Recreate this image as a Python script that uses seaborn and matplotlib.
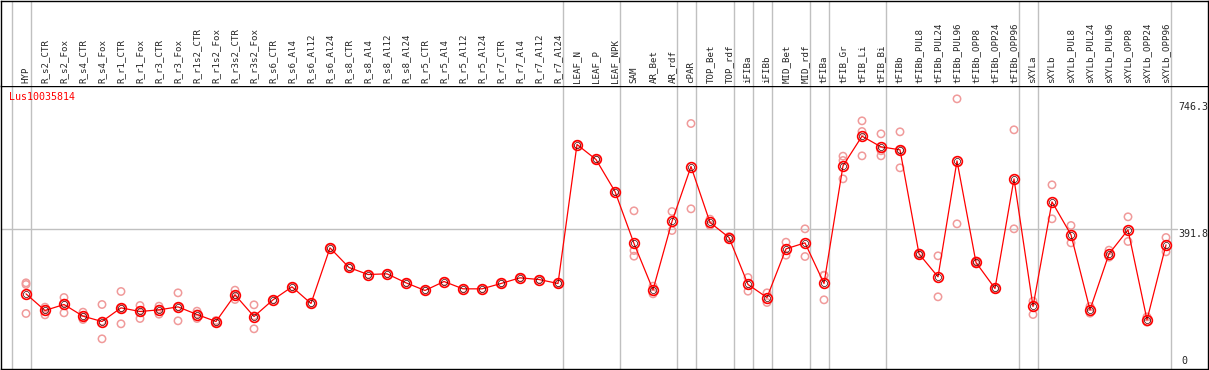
import pandas as pd
import numpy as np
import matplotlib.pyplot as plt
import seaborn as sns

# Muestras (orden de las columnas del encabezado)
muestras = ['HYP', 'R_s2_CTR', 'R_s2_Fox', 'R_s4_CTR', 'R_s4_Fox', 'R_r1_CTR', 'R_r1_Fox',
            'R_r3_CTR', 'R_r3_Fox', 'R_r1s2_CTR', 'R_r1s2_Fox', 'R_r3s2_CTR', 'R_r3s2_Fox',
            'R_s6_CTR', 'R_s6_Al4', 'R_s6_Al12', 'R_s6_Al24', 'R_s8_CTR', 'R_s8_Al4',
            'R_s8_Al12', 'R_s8_Al24', 'R_r5_CTR', 'R_r5_Al4', 'R_r5_Al12', 'R_r5_Al24',
            'R_r7_CTR', 'R_r7_Al4', 'R_r7_Al12', 'R_r7_Al24', 'LEAF_N', 'LEAF_P', 'LEAF_NPK',
            'SAM', 'AR_Bet', 'AR_rdf', 'cPAR', 'TOP_Bet', 'TOP_rdf', 'iFIBa', 'iFIBb',
            'MID_Bet', 'MID_rdf', 'tFIBa', 'tFIB_Gr', 'tFIB_Li', 'tFIB_Bi', 'tFIBb',
            'tFIBb_PUL8', 'tFIBb_PUL24', 'tFIBb_PUL96', 'tFIBb_OPP8', 'tFIBb_OPP24',
            'tFIBb_OPP96', 'sXYLa', 'sXYLb', 'sXYLb_PUL8', 'sXYLb_PUL24', 'sXYLb_PUL96',
            'sXYLb_OPP8', 'sXYLb_OPP24', 'sXYLb_OPP96']

# tamaño de cada grupo de tejido (separadores verticales)
grupos = [1, 28, 3, 3, 1, 2, 1, 1, 2, 1, 3, 7, 1, 7]

# expresión media por muestra
media = [209.4, 162.7, 179.5, 146.8, 131.8, 170.1, 159.9, 164.5, 172.9, 151.4, 131.8,
         206.6, 145.8, 192.6, 229.0, 182.3, 338.4, 283.3, 263.6, 265.5, 240.3, 218.8,
         244.0, 223.4, 223.4, 238.4, 254.3, 249.6, 238.4, 628.2, 586.2, 496.4, 350.6,
         220.6, 412.3, 566.5, 409.5, 367.4, 235.6, 199.1, 335.6, 352.4, 238.4, 568.4,
         651.6, 621.7, 613.3, 321.6, 257.1, 582.4, 297.3, 224.4, 531.9, 173.9, 467.4,
         374.9, 164.5, 321.6, 388.9, 136.5, 346.8]

# réplicas individuales
replicas = [
    [240.3, 235.6, 154.3], [172.0, 165.6, 150.5], [199.1, 183.3, 156.1],
    [158.0, 145.0, 137.4], [179.5, 132.7, 83.2], [216.0, 169.0, 125.3],
    [176.7, 162.8, 140.2], [174.8, 166.3, 152.4], [212.2, 172.8, 133.7],
    [160.8, 153.2, 140.2], [134.6, 131.8, 129.0], [219.7, 206.6, 193.5],
    [178.6, 147.5, 111.3], [192.6], [229.0], [182.3], [338.4], [283.3], [263.6],
    [265.5], [240.3], [218.8], [244.0], [223.4], [223.4], [238.4], [254.3], [249.6],
    [238.4], [628.2], [586.2], [496.4], [442.2, 330.9, 315.0], [230.9, 209.4],
    [440.3, 387.0], [687.1, 447.8], [418.8, 401.1], [370.0, 365.0], [255.2, 216.9],
    [212.2, 185.1], [354.3, 317.8], [391.7, 314.1], [261.8, 260.8, 192.6],
    [595.5, 583.4, 531.9], [694.6, 664.7, 596.4], [658.1, 610.6, 596.4],
    [663.8, 613.3, 562.8], [324.0, 321.6, 319.0], [316.0, 201.0], [756.3, 405.7],
    [302.0, 297.3, 293.5], [224.4], [669.4, 391.7], [188.8, 151.4], [515.1, 419.8],
    [401.1, 352.4], [173.9, 155.2], [331.9, 312.2], [425.4, 356.2], [144.9, 129.9],
    [367.4, 327.2]]

gen = 'Lus10035814'
niveles = [746.3, 391.8]

df_media = pd.DataFrame({'pos': np.arange(len(muestras)), 'media': media})
df_rep = pd.DataFrame([(i, v) for i, r in enumerate(replicas) for v in r],
                      columns=['pos', 'valor'])

sns.set_style('white')
plt.rcParams['font.family'] = ['DejaVu Sans Mono', 'DejaVu Sans']

W, H = 1209, 370
fig = plt.figure(figsize=(W / 100, H / 100), dpi=100)
xl = ((1 - 26) / 19, (1208 - 26) / 19)

# panel principal
ax = fig.add_axes([1 / W, (H - 368.5) / H, 1207 / W, 283 / H])
# encabezado con nombres
axh = fig.add_axes([1 / W, (H - 85.5) / H, 1207 / W, 85 / H])

gris = '#c0c0c0'
bordes = np.concatenate([[-1], np.cumsum(grupos) - 1]) + 0.25
for a in (ax, axh):
    a.set_xlim(*xl)
    for b in bordes:
        a.axvline(b, color=gris, lw=1.0, zorder=1)
    a.set_xticks([])
    a.set_yticks([])
    for s in a.spines.values():
        s.set_color('black')
        s.set_linewidth(1.0)

axh.set_ylim(0, 85)
axh.spines['bottom'].set_visible(False)
for i, m in enumerate(muestras):
    axh.text(i, 2.5, m, rotation=90, ha='center', va='bottom', fontsize=6.6)

ymax = (368.5 - 85.5) * 2.8046
ax.set_ylim(0, ymax)
ax.axhline(niveles[1], xmin=0, xmax=1176 / 1207, color=gris, lw=1.0, zorder=1)

sns.scatterplot(data=df_rep, x='pos', y='valor', ax=ax, marker='o', s=28,
                facecolors='none', edgecolor='#f09a9a', linewidth=1.1, zorder=2, legend=False)
sns.lineplot(data=df_media, x='pos', y='media', ax=ax, color='red', lw=0.9, zorder=3)
ax.plot(df_media['pos'], df_media['media'], ls='none', marker='o', ms=7,
        mfc='none', mec='red', mew=1.2, zorder=4)
ax.plot(df_media['pos'], df_media['media'], ls='none', marker='o', ms=4.4,
        mfc='none', mec='#400000', mew=0.5, zorder=5)
ax.set_xlabel('')
ax.set_ylabel('')
ax.set_xlim(*xl)

trans = ax.get_yaxis_transform()
xt = (1178 - 1) / 1207
ax.text(xt, niveles[0], f'{niveles[0]:.1f}', transform=trans, va='top', ha='left', fontsize=7.2)
ax.text(xt, niveles[1], f'{niveles[1]:.1f}', transform=trans, va='top', ha='left', fontsize=7.2)
ax.text(xt + 3 / 1207, 6, '0', transform=trans, va='bottom', ha='left', fontsize=7.2)

fig.text(9 / W, 1 - 97 / H, gen, color='red', va='center', ha='left', fontsize=7.2)

fig.savefig('out.png', dpi=100)
